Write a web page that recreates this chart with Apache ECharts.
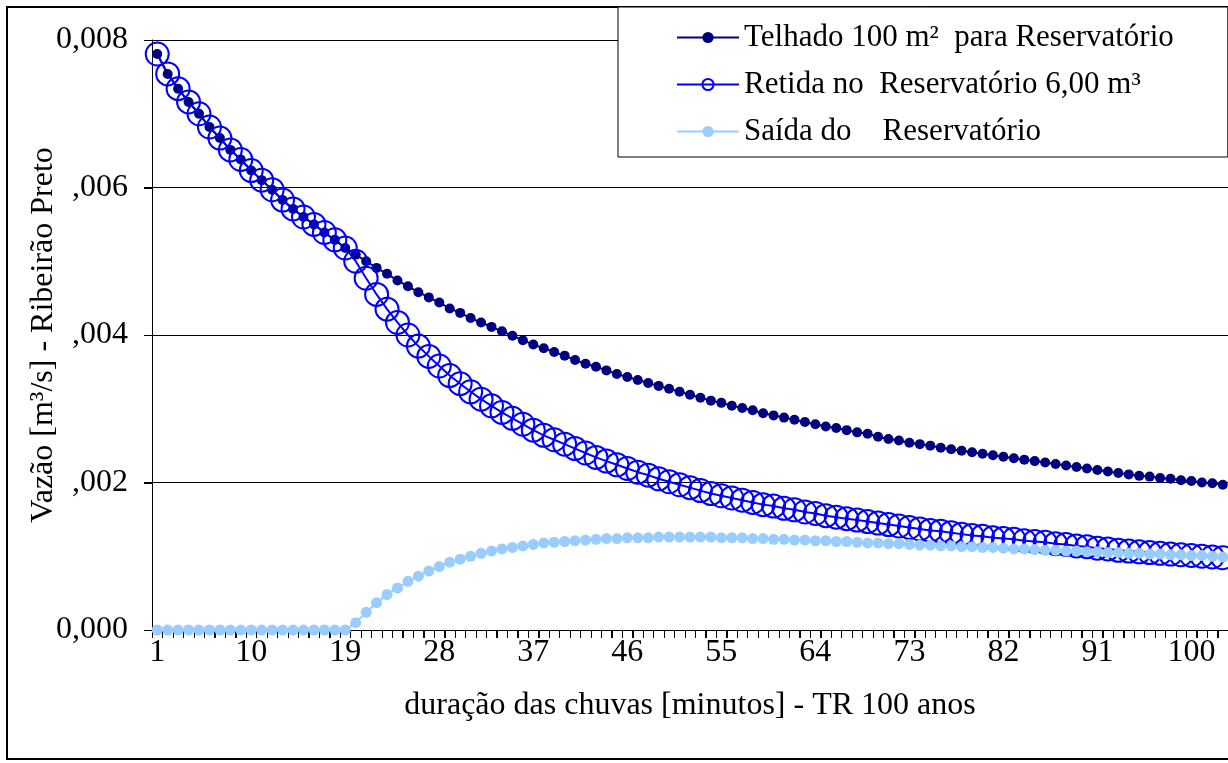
<!DOCTYPE html>
<html>
  <head>
    <meta charset="utf-8" />
    <title>Vazão - Ribeirão Preto</title>
    <script src="https://cdn.jsdelivr.net/npm/echarts/dist/echarts.min.js"></script>
    <style>
      body { margin: 0; background: #fff; }
    </style>
  </head>
  <body>
    <div id="main" style="width: 1228px; height: 763px"></div>

    <script>
      // duração (minutos) 1..103
      var minutos = Array.from({ length: 103 }, function (_, i) { return String(i + 1); });

      var telhado = [
        0.00781, 0.00754, 0.00734, 0.00716, 0.00700, 0.00682, 0.00667, 0.00651, 0.00638, 0.00623,
        0.00610, 0.00597, 0.00583, 0.00571, 0.00560, 0.00550, 0.00539, 0.00529, 0.00518, 0.00509,
        0.00500, 0.00491, 0.00483, 0.00474, 0.00466, 0.00458, 0.00451, 0.00444, 0.00436, 0.00430,
        0.00423, 0.00417, 0.00411, 0.00405, 0.00399, 0.00393, 0.00387, 0.00382, 0.00377, 0.00372,
        0.00366, 0.00361, 0.00357, 0.00352, 0.00347, 0.00343, 0.00339, 0.00335, 0.00331, 0.00327,
        0.00323, 0.00319, 0.00315, 0.00311, 0.00308, 0.00304, 0.00301, 0.00298, 0.00294, 0.00291,
        0.00288, 0.00285, 0.00282, 0.00279, 0.00276, 0.00274, 0.00271, 0.00268, 0.00266, 0.00262,
        0.00259, 0.00257, 0.00254, 0.00252, 0.00250, 0.00247, 0.00245, 0.00243, 0.00241, 0.00239,
        0.00237, 0.00235, 0.00233, 0.00231, 0.00229, 0.00227, 0.00225, 0.00223, 0.00221, 0.00219,
        0.00217, 0.00215, 0.00213, 0.00211, 0.00209, 0.00208, 0.00206, 0.00205, 0.00203, 0.00202,
        0.00200, 0.00199, 0.00197
      ];

      var retida = [
        0.00781, 0.00754, 0.00734, 0.00716, 0.00700, 0.00682, 0.00667, 0.00651, 0.00638, 0.00623,
        0.00610, 0.00597, 0.00583, 0.00571, 0.00560, 0.00550, 0.00539, 0.00529, 0.00518, 0.00500,
        0.00477, 0.00455, 0.00435, 0.00417, 0.00400, 0.00385, 0.00371, 0.00358, 0.00345, 0.00334,
        0.00323, 0.00313, 0.00304, 0.00295, 0.00287, 0.00279, 0.00271, 0.00264, 0.00258, 0.00252,
        0.00246, 0.00240, 0.00234, 0.00229, 0.00224, 0.00219, 0.00214, 0.00210, 0.00205, 0.00201,
        0.00197, 0.00193, 0.00189, 0.00185, 0.00182, 0.00179, 0.00176, 0.00173, 0.00170, 0.00168,
        0.00165, 0.00163, 0.00160, 0.00158, 0.00155, 0.00153, 0.00151, 0.00149, 0.00147, 0.00145,
        0.00143, 0.00141, 0.00139, 0.00137, 0.00135, 0.00134, 0.00132, 0.00130, 0.00128, 0.00127,
        0.00125, 0.00124, 0.00123, 0.00121, 0.00120, 0.00119, 0.00117, 0.00116, 0.00114, 0.00113,
        0.00111, 0.00110, 0.00108, 0.00107, 0.00106, 0.00105, 0.00104, 0.00103, 0.00102, 0.00101,
        0.00100, 0.00099, 0.00098
      ];

      var saida = [
        0, 0, 0, 0, 0, 0, 0, 0, 0, 0,
        0, 0, 0, 0, 0, 0, 0, 0, 0, 0.00010,
        0.00024, 0.00037, 0.00048, 0.00057, 0.00066, 0.00073, 0.00080, 0.00086, 0.00092, 0.00096,
        0.00100, 0.00104, 0.00107, 0.00110, 0.00112, 0.00114, 0.00116, 0.00118, 0.00119, 0.00120,
        0.00121, 0.00122, 0.00123, 0.00124, 0.00124, 0.00125, 0.00125, 0.00125, 0.00126, 0.00126,
        0.00126, 0.00126, 0.00126, 0.00126, 0.00125, 0.00125, 0.00125, 0.00124, 0.00124, 0.00123,
        0.00123, 0.00122, 0.00122, 0.00121, 0.00121, 0.00120, 0.00120, 0.00119, 0.00118, 0.00118,
        0.00117, 0.00117, 0.00116, 0.00115, 0.00115, 0.00114, 0.00114, 0.00113, 0.00113, 0.00112,
        0.00112, 0.00111, 0.00110, 0.00110, 0.00109, 0.00108, 0.00108, 0.00107, 0.00107, 0.00106,
        0.00106, 0.00105, 0.00105, 0.00104, 0.00104, 0.00103, 0.00103, 0.00102, 0.00102, 0.00101,
        0.00101, 0.00100, 0.00099
      ];

      // valores das marcas do eixo vertical
      var marcasY = [0, 0.002, 0.004, 0.006, 0.008];

      var nomes = [
        "Telhado 100 m²  para Reservatório",
        "Retida no  Reservatório 6,00 m³",
        "Saída do    Reservatório",
      ];

      var fonte = "Liberation Serif";

      var myChart = echarts.init(document.getElementById("main"));

      // marca curta no limite esquerdo de cada minuto (abaixo do eixo X)
      function marcaX(params, api) {
        var p = api.coord([api.value(0), 0]);
        var w = api.size([1, 0])[0];
        var x = Math.round(p[0] - w / 2) + 0.5;
        return {
          type: "line",
          shape: { x1: x, y1: p[1], x2: x, y2: p[1] + 8 },
          style: { stroke: "#000", lineWidth: 1 },
        };
      }

      // marca curta à esquerda do eixo Y em cada linha de grade
      function marcaY(params, api) {
        var p = api.coord([0, api.value(1)]);
        var w = api.size([1, 0])[0];
        var x = p[0] - w / 2;
        var y = Math.round(p[1]) + 0.5;
        return {
          type: "line",
          shape: { x1: x - 8, y1: y, x2: x, y2: y },
          style: { stroke: "#000", lineWidth: 1 },
        };
      }

      var option = {
        animation: false,
        backgroundColor: "#fff",
        textStyle: { fontFamily: fonte, color: "#000" },
        tooltip: { show: false },
        graphic: [
          {
            type: "rect",
            shape: { x: 7, y: 7, width: 1300, height: 752 },
            style: { fill: "none", stroke: "#000", lineWidth: 2 },
            silent: true,
          },
        ],
        legend: {
          orient: "vertical",
          left: 618,
          top: 7,
          padding: [15, 54, 10, 58],
          itemWidth: 62,
          itemHeight: 14,
          itemGap: 16,
          backgroundColor: "#fff",
          borderColor: "#000",
          borderWidth: 1,
          textStyle: { fontFamily: fonte, fontSize: 31, color: "#000" },
          data: nomes,
        },
        grid: { left: 152, right: 0, top: 40, bottom: 133 },
        xAxis: {
          type: "category",
          data: minutos,
          name: "duração das chuvas [minutos] - TR 100 anos",
          nameLocation: "middle",
          nameGap: 60,
          nameMoveOverlap: false,
          nameTextStyle: { fontFamily: fonte, fontSize: 32, color: "#000" },
          axisLine: { show: true, lineStyle: { color: "#000" } },
          axisTick: { show: true, interval: 0, length: 8, lineStyle: { color: "#000", width: 1 } },
          axisLabel: {
            interval: 8,
            margin: 7,
            fontFamily: fonte,
            fontSize: 32,
            color: "#000",
          },
        },
        yAxis: {
          type: "value",
          min: 0,
          max: 0.008,
          interval: 0.002,
          name: "Vazão [m³/s] - Ribeirão Preto",
          nameLocation: "middle",
          nameGap: 92,
          nameMoveOverlap: false,
          nameTextStyle: { fontFamily: fonte, fontSize: 32, color: "#000" },
          axisLine: { show: true, lineStyle: { color: "#000" } },
          axisTick: { show: true, length: 8, lineStyle: { color: "#000", width: 1 } },
          splitLine: { lineStyle: { color: "#000", width: 1 } },
          axisLabel: {
            margin: 24,
            fontFamily: fonte,
            fontSize: 32,
            color: "#000",
            formatter: function (v) {
              if (v === 0) return "0,000";
              if (v >= 0.008) return "0,008";
              return "," + String(Math.round(v * 1000)).padStart(3, "0");
            },
          },
        },
        series: [
          {
            type: "custom",
            name: "marcasX",
            silent: true,
            clip: false,
            renderItem: marcaX,
            data: minutos.map(function (m) { return [m, 0]; }),
          },
          {
            type: "custom",
            name: "marcasY",
            silent: true,
            clip: false,
            renderItem: marcaY,
            data: marcasY.map(function (v) { return [minutos[0], v]; }),
          },
          {
            name: nomes[0],
            type: "line",
            data: telhado,
            showAllSymbol: true,
            symbol: "circle",
            symbolSize: 10,
            itemStyle: { color: "#000080" },
            lineStyle: { color: "#000080", width: 2 },
          },
          {
            name: nomes[1],
            type: "line",
            data: retida,
            showAllSymbol: true,
            symbol: "circle",
            symbolSize: 23,
            itemStyle: { color: "rgba(0,0,0,0)", borderColor: "#0000FF", borderWidth: 2 },
            lineStyle: { color: "#0000FF", width: 2 },
          },
          {
            name: nomes[2],
            type: "line",
            data: saida,
            showAllSymbol: true,
            symbol: "circle",
            symbolSize: 11,
            itemStyle: { color: "#99CCFF" },
            lineStyle: { color: "#99CCFF", width: 2 },
          },
        ],
      };

      myChart.setOption(option);
    </script>
  </body>
</html>
